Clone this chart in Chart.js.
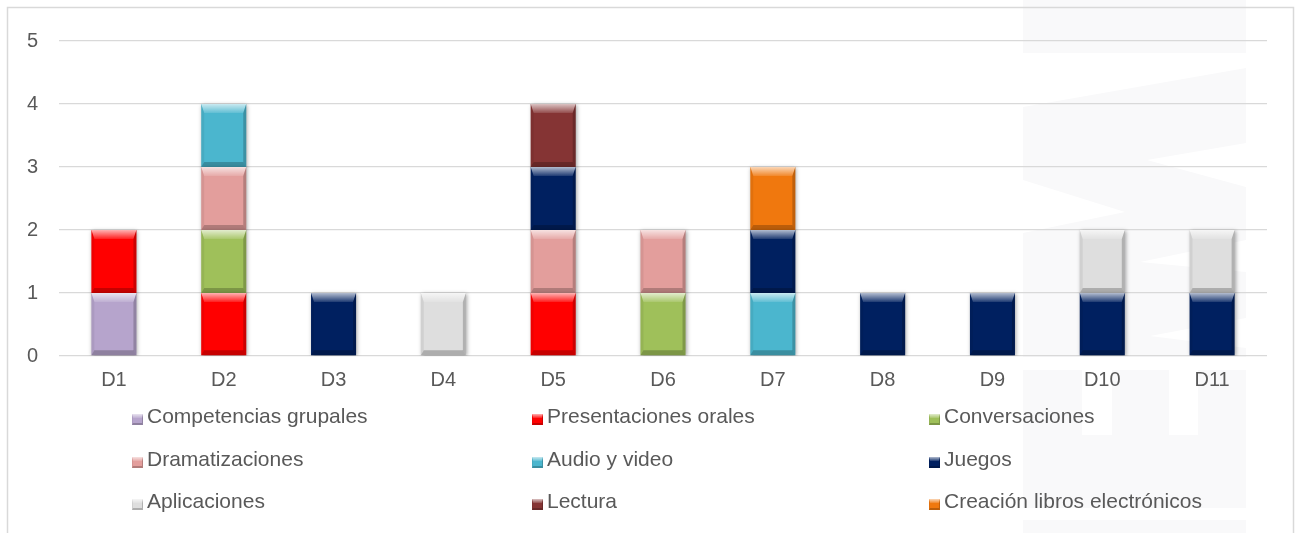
<!DOCTYPE html>
<html>
<head>
<meta charset="utf-8">
<script src="https://cdn.jsdelivr.net/npm/chart.js@4.4.0/dist/chart.umd.min.js"></script>
<style>
  html, body { margin: 0; padding: 0; background: #fff; }
  #wrap { width: 1296px; height: 533px; position: relative; }
</style>
</head>
<body>
<div id="wrap"><canvas id="chart"></canvas></div>
<script>
const categories = ['D1', 'D2', 'D3', 'D4', 'D5', 'D6', 'D7', 'D8', 'D9', 'D10', 'D11'];

const competencias    = [1, 0, 0, 0, 0, 0, 0, 0, 0, 0, 0];
const presentaciones  = [1, 1, 0, 0, 1, 0, 0, 0, 0, 0, 0];
const conversaciones  = [0, 1, 0, 0, 0, 1, 0, 0, 0, 0, 0];
const dramatizaciones = [0, 1, 0, 0, 1, 1, 0, 0, 0, 0, 0];
const audioVideo      = [0, 1, 0, 0, 0, 0, 1, 0, 0, 0, 0];
const juegos          = [0, 0, 1, 0, 1, 0, 1, 1, 1, 1, 1];
const aplicaciones    = [0, 0, 0, 1, 0, 0, 0, 0, 0, 1, 1];
const lectura         = [0, 0, 0, 0, 1, 0, 0, 0, 0, 0, 0];
const librosElec      = [0, 0, 0, 0, 0, 0, 1, 0, 0, 0, 0];

const seriesNames = [
  'Competencias grupales', 'Presentaciones orales', 'Conversaciones',
  'Dramatizaciones', 'Audio y video', 'Juegos',
  'Aplicaciones', 'Lectura', 'Creación libros electrónicos'
];
const seriesData = [
  competencias, presentaciones, conversaciones,
  dramatizaciones, audioVideo, juegos,
  aplicaciones, lectura, librosElec
];
const seriesColors = [
  '#b6a4cc', '#ff0000', '#9fc05a',
  '#e39e9c', '#4bb6ce', '#002060',
  '#dedede', '#853434', '#f0780e'
];

const yMin = 0;
const yMax = 5;

const FONT = "'Liberation Sans', Arial, sans-serif";
const TEXT_COLOR = '#595959';

function poly(ctx, pts, fill) {
  ctx.beginPath();
  ctx.moveTo(pts[0][0], pts[0][1]);
  for (let i = 1; i < pts.length; i++) ctx.lineTo(pts[i][0], pts[i][1]);
  ctx.closePath();
  ctx.fillStyle = fill;
  ctx.fill();
}

// soft 3D edge drawn over a filled rectangle: tall top facet, thin sides and bottom
function bevel(ctx, l, t, w, h, top, side, bottom) {
  if (h <= 0 || w <= 0) return;
  const k = Math.min(1, h / (top + bottom + 2));
  top *= k; bottom *= k;
  const r = l + w, btm = t + h;
  const il = l + side, ir = r - side, it = t + top, ib = btm - bottom;
  const g = ctx.createLinearGradient(0, t, 0, it);
  g.addColorStop(0, 'rgba(255,255,255,0.7)');
  g.addColorStop(1, 'rgba(255,255,255,0.12)');
  poly(ctx, [[l, t], [r, t], [ir, it], [il, it]], g);
  poly(ctx, [[l, t], [il, it], [il, ib], [l, btm]], 'rgba(0,0,0,0.06)');
  poly(ctx, [[r, t], [ir, it], [ir, ib], [r, btm]], 'rgba(0,0,0,0.2)');
  poly(ctx, [[l, btm], [il, ib], [ir, ib], [r, btm]], 'rgba(0,0,0,0.22)');
}

// faint logo pattern behind the plot and the outer frame
const backdrop = {
  id: 'backdrop',
  beforeDraw(chart) {
    const ctx = chart.ctx;
    ctx.save();
    ctx.fillStyle = '#ffffff';
    ctx.fillRect(0, 0, chart.width, chart.height);
    const light = '#f9f9fa';
    poly(ctx, [[1023, 0], [1246, 0], [1246, 53], [1023, 53]], light);
    poly(ctx, [[1023, 107], [1246, 68], [1246, 357], [1023, 357]], light);
    poly(ctx, [[1023, 370], [1246, 370], [1246, 508], [1023, 508]], light);
    poly(ctx, [[1023, 520], [1246, 520], [1246, 533], [1023, 533]], light);
    poly(ctx, [[1246, 143], [1147, 160], [1246, 187]], '#ffffff');
    poly(ctx, [[1023, 180], [1125, 212], [1023, 233]], '#ffffff');
    poly(ctx, [[1246, 240], [1140, 262], [1246, 272]], '#ffffff');
    poly(ctx, [[1246, 318], [1150, 336], [1246, 348]], '#ffffff');
    ctx.fillStyle = '#ffffff';
    ctx.fillRect(1082, 365, 30, 70);
    ctx.fillRect(1169, 365, 29, 70);
    ctx.strokeStyle = '#d9d9d9';
    ctx.lineWidth = 1.5;
    ctx.strokeRect(7.5, 7.5, 1286, 600);
    ctx.restore();
  }
};

const barShadow = {
  id: 'barShadow',
  beforeDatasetDraw(chart) {
    const ctx = chart.ctx;
    ctx.shadowColor = 'rgba(0,0,0,0.35)';
    ctx.shadowBlur = 4;
    ctx.shadowOffsetX = 1;
    ctx.shadowOffsetY = 1;
  },
  afterDatasetDraw(chart) {
    const ctx = chart.ctx;
    ctx.shadowColor = 'rgba(0,0,0,0)';
    ctx.shadowBlur = 0;
    ctx.shadowOffsetX = 0;
    ctx.shadowOffsetY = 0;
  }
};

const barBevel = {
  id: 'barBevel',
  afterDatasetsDraw(chart) {
    const ctx = chart.ctx;
    ctx.save();
    chart.data.datasets.forEach((ds, i) => {
      const meta = chart.getDatasetMeta(i);
      meta.data.forEach((bar, j) => {
        if (!ds.data[j]) return;
        const p = bar.getProps(['x', 'y', 'base', 'width'], true);
        bevel(ctx, p.x - p.width / 2, p.y, p.width, p.base - p.y, 9, 3, 5);
      });
    });
    ctx.restore();
  }
};

// three-column legend under the axis
const gridLegend = {
  id: 'gridLegend',
  afterDraw(chart) {
    const ctx = chart.ctx;
    const colX = [132, 532, 929];
    const rowY = [423, 466, 508];
    ctx.save();
    ctx.font = '21px ' + FONT;
    ctx.textBaseline = 'alphabetic';
    ctx.textAlign = 'left';
    seriesNames.forEach((name, i) => {
      const x = colX[i % 3];
      const y = rowY[Math.floor(i / 3)];
      ctx.fillStyle = seriesColors[i];
      ctx.fillRect(x, y - 9, 11, 11);
      bevel(ctx, x, y - 9, 11, 11, 4, 1, 2);
      ctx.fillStyle = TEXT_COLOR;
      ctx.fillText(name, x + 15, y);
    });
    ctx.restore();
  }
};

new Chart(document.getElementById('chart'), {
  type: 'bar',
  data: {
    labels: categories,
    datasets: seriesNames.map((name, i) => ({
      label: name,
      data: seriesData[i],
      backgroundColor: seriesColors[i],
      borderWidth: 0,
      barPercentage: 0.41,
      categoryPercentage: 1
    }))
  },
  options: {
    responsive: true,
    maintainAspectRatio: false,
    animation: false,
    layout: { padding: { top: 41, right: 29, bottom: 137, left: 0 } },
    plugins: {
      legend: { display: false },
      tooltip: { enabled: false }
    },
    scales: {
      x: {
        stacked: true,
        grid: { display: false },
        border: { display: false },
        ticks: { color: TEXT_COLOR, font: { family: FONT, size: 20 }, padding: 4 },
        afterFit(scale) { scale.height = 40; }
      },
      y: {
        stacked: true,
        min: yMin,
        max: yMax,
        grid: { color: '#d9d9d9', lineWidth: 1.3, drawTicks: false },
        border: { display: false },
        ticks: { stepSize: 1, color: TEXT_COLOR, font: { family: FONT, size: 20 }, padding: 21 },
        afterFit(scale) { scale.width = 59; }
      }
    }
  },
  plugins: [backdrop, barShadow, barBevel, gridLegend]
});
</script>
</body>
</html>
